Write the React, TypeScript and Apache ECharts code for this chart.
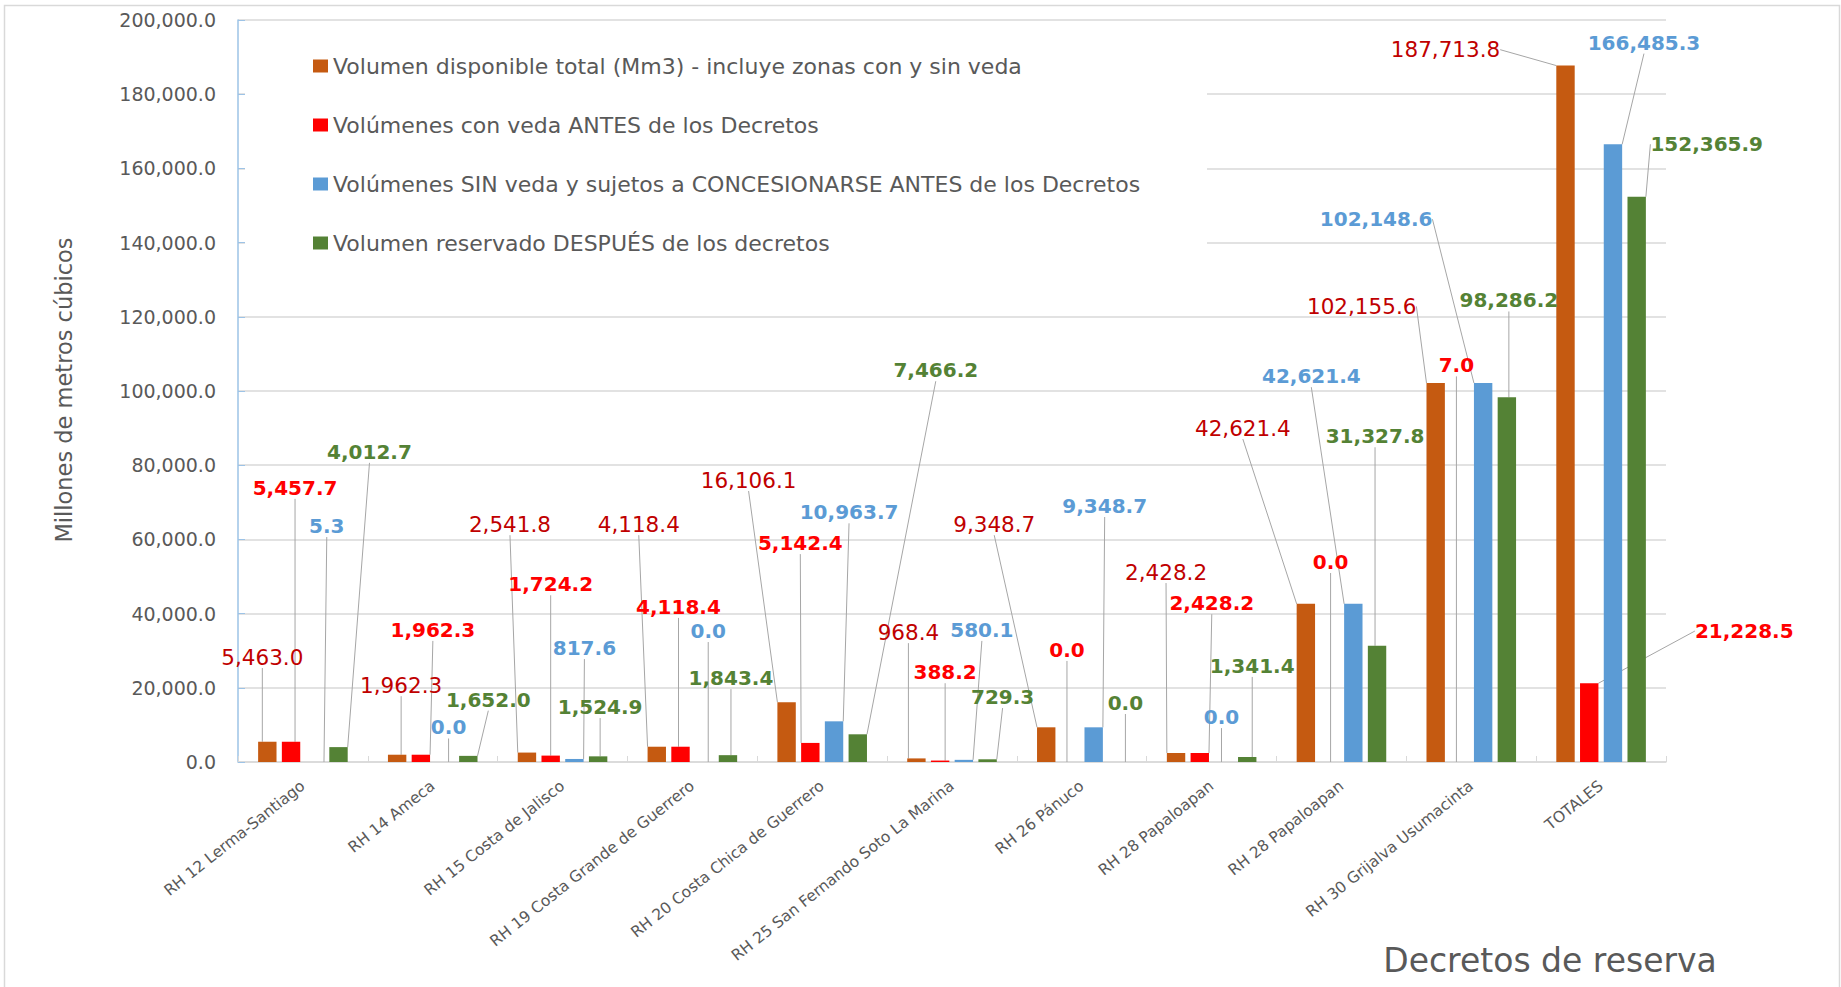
import React, { useEffect, useRef } from 'react';
import * as echarts from 'echarts';

const categories = [
  'RH 12 Lerma-Santiago',
  'RH 14 Ameca',
  'RH 15 Costa de Jalisco',
  'RH 19 Costa Grande de Guerrero',
  'RH 20 Costa Chica de Guerrero',
  'RH 25 San Fernando Soto La Marina',
  'RH 26 Pánuco',
  'RH 28 Papaloapan',
  'RH 28 Papaloapan',
  'RH 30 Grijalva Usumacinta',
  'TOTALES',
];

const seriesNames = [
  'Volumen disponible total (Mm3) - incluye zonas con y sin veda',
  'Volúmenes con veda ANTES de los Decretos',
  'Volúmenes SIN veda y sujetos a CONCESIONARSE ANTES de los Decretos',
  'Volumen reservado DESPUÉS de los decretos',
];

const volDisponible = [5463.0, 1962.3, 2541.8, 4118.4, 16106.1, 968.4, 9348.7, 2428.2, 42621.4, 102155.6, 187713.8];
const volConVeda = [5457.7, 1962.3, 1724.2, 4118.4, 5142.4, 388.2, 0.0, 2428.2, 0.0, 7.0, 21228.5];
const volSinVeda = [5.3, 0.0, 817.6, 0.0, 10963.7, 580.1, 9348.7, 0.0, 42621.4, 102148.6, 166485.3];
const volReservado = [4012.7, 1652.0, 1524.9, 1843.4, 7466.2, 729.3, 0.0, 1341.4, 31327.8, 98286.2, 152365.9];

// label placement: horizontal shift (px) from bar centre, and label height in data units
const dispLabelDx = [-5, 4, -17, -18, -38, -8, -52, -10, -63, -74, -120];
const dispLabelY = [28300, 20700, 64100, 64100, 76000, 35000, 64100, 51200, 90000, 122800, 192000];
const vedaLabelDx = [4, 12, 0, -2, -10, 5, -3, 12, 1, -3, 155];
const vedaLabelY = [73900, 35600, 47900, 41800, 59000, 24200, 30200, 42800, 53900, 106900, 35300];
const sinLabelDx = [12, 4, 10, 4, 15, 18, 11, -2, -42, -107, 31];
const sinLabelY = [63600, 9300, 30700, 35300, 67300, 35600, 69000, 12100, 104000, 146300, 193900];
const resLabelDx = [31, 20, 2, 3, 78, 15, 8, 5, -2, 2, 70];
const resLabelY = [83600, 16800, 14800, 22600, 105600, 17500, 15900, 25900, 87800, 124400, 166500];

const FONT = "'DejaVu Sans', sans-serif";
const fmt = (v: number) =>
  Number(v).toLocaleString('en-US', { minimumFractionDigits: 1, maximumFractionDigits: 1 });

export default function App() {
  const ref = useRef<HTMLDivElement>(null);

  useEffect(() => {
    if (!ref.current) return;
    const chart = echarts.init(ref.current, null, { renderer: 'svg' });

    const toPixelY = (v: number) => {
      try {
        const p = chart.convertToPixel({ yAxisIndex: 0 } as any, v) as any;
        if (typeof p === 'number' && isFinite(p)) return p;
      } catch (e) {}
      return 20 + (1 - v / 200000) * 742;
    };

    const makeSeries = (
      name: string,
      data: number[],
      color: string,
      labelColor: string,
      bold: boolean,
      dx: number[],
      ly: number[]
    ) => ({
      name,
      type: 'bar',
      data,
      barCategoryGap: '31%',
      barGap: '29%',
      itemStyle: { color },
      label: {
        show: true,
        formatter: (p: any) => fmt(p.value),
        color: labelColor,
        fontSize: bold ? 20 : 21.5,
        fontWeight: bold ? 'bold' : 'normal',
        fontFamily: FONT,
        lineHeight: 22,
      },
      labelLine: { show: true, lineStyle: { color: '#A6A6A6', width: 1 } },
      labelLayout: (p: any) => {
        const i = p.dataIndex;
        return {
          x: p.rect.x + p.rect.width / 2 + dx[i],
          y: toPixelY(ly[i]),
          align: 'center',
          verticalAlign: 'middle',
        };
      },
      emphasis: { disabled: true },
    });

    chart.setOption({
      animation: false,
      backgroundColor: '#ffffff',
      grid: { left: 238, right: 175, top: 20, bottom: 225, containLabel: false },
      legend: {
        orient: 'vertical',
        left: 313,
        top: 53,
        padding: 0,
        itemWidth: 15,
        itemHeight: 13,
        itemGap: 33,
        icon: 'rect',
        selectedMode: false,
        z: 5,
        data: seriesNames,
        textStyle: { fontSize: 22, color: '#595959', fontFamily: FONT, lineHeight: 26 },
      },
      xAxis: {
        type: 'category',
        data: categories,
        axisLine: { lineStyle: { color: '#D9D9D9', width: 1.5 } },
        axisTick: { show: true, inside: true, length: 6, lineStyle: { color: '#D9D9D9' } },
        axisLabel: {
          rotate: 38.5,
          interval: 0,
          fontSize: 15.5,
          color: '#595959',
          fontFamily: FONT,
          margin: 22,
        },
        splitLine: { show: false },
      },
      yAxis: {
        type: 'value',
        min: 0,
        max: 200000,
        interval: 20000,
        axisLine: { show: true, lineStyle: { color: '#9DC3E6', width: 1.5 } },
        axisTick: { show: true, inside: true, length: 7, lineStyle: { color: '#9DC3E6' } },
        axisLabel: {
          formatter: (v: number) => fmt(v),
          fontSize: 19,
          color: '#595959',
          fontFamily: FONT,
          margin: 22,
        },
        splitLine: { show: true, lineStyle: { color: '#D9D9D9', width: 1.5 } },
      },
      graphic: [
        {
          type: 'rect',
          z: -10,
          silent: true,
          shape: { x: 4.5, y: 5.5, width: 1835, height: 1000 },
          style: { fill: 'none', stroke: '#D9D9D9', lineWidth: 1.5 },
        },
        {
          type: 'rect',
          z: 1,
          silent: true,
          shape: { x: 245, y: 24, width: 962, height: 266 },
          style: { fill: '#ffffff' },
        },
        {
          type: 'text',
          x: 64,
          y: 390,
          rotation: Math.PI / 2,
          silent: true,
          style: {
            text: 'Millones de metros cúbicos',
            align: 'center',
            verticalAlign: 'middle',
            fontSize: 22.5,
            fontFamily: FONT,
            fill: '#595959',
          },
        },
        {
          type: 'text',
          x: 1550,
          y: 960,
          silent: true,
          style: {
            text: 'Decretos de reserva',
            align: 'center',
            verticalAlign: 'middle',
            fontSize: 33,
            fontFamily: FONT,
            fill: '#595959',
          },
        },
      ],
      series: [
        makeSeries(seriesNames[0], volDisponible, '#C55A11', '#C00000', false, dispLabelDx, dispLabelY),
        makeSeries(seriesNames[1], volConVeda, '#FF0000', '#FF0000', true, vedaLabelDx, vedaLabelY),
        makeSeries(seriesNames[2], volSinVeda, '#5B9BD5', '#5B9BD5', true, sinLabelDx, sinLabelY),
        makeSeries(seriesNames[3], volReservado, '#548235', '#548235', true, resLabelDx, resLabelY),
      ],
    });

    return () => {
      chart.dispose();
    };
  }, []);

  return (
    <div
      ref={ref}
      style={{ position: 'fixed', left: 0, top: 0, width: 1841, height: 987, background: '#fff' }}
    />
  );
}
